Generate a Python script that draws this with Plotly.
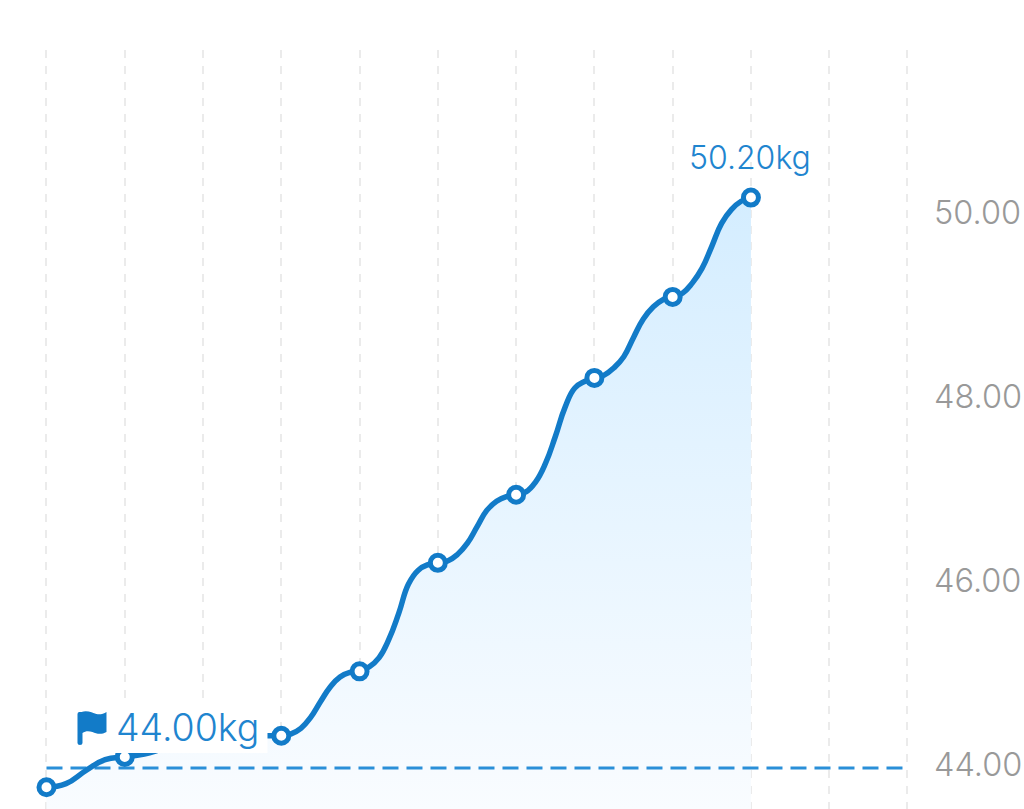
import plotly.graph_objects as go

# point values (kg), one per marker
point_x = [0, 1, 2, 3, 4, 5, 6, 7, 8, 9]
point_kg = [43.79, 44.12, 44.30, 44.35, 45.05, 46.23, 46.97, 48.24, 49.12, 50.20]

# curve, between the points
curve_x = [0, .25, .5, .75, 1, 1.25, 1.5, 1.75, 2, 2.25, 2.5, 2.75, 3,
           3.125, 3.25, 3.375, 3.5, 3.625, 3.75, 3.875, 4,
           4.125, 4.25, 4.375, 4.5, 4.625, 4.75, 4.875, 5,
           5.125, 5.25, 5.375, 5.5, 5.625, 5.75, 5.875, 6,
           6.125, 6.25, 6.375, 6.5, 6.625, 6.75, 6.875, 7,
           7.125, 7.25, 7.375, 7.5, 7.625, 7.75, 7.875, 8,
           8.125, 8.25, 8.375, 8.5, 8.625, 8.75, 8.875, 9]
curve_kg = [43.79, 43.83, 43.97, 44.09, 44.12, 44.15, 44.21, 44.26, 44.30, 44.32, 44.33, 44.35, 44.35,
            44.37, 44.43, 44.55, 44.72, 44.88, 44.99, 45.04, 45.05,
            45.10, 45.20, 45.40, 45.68, 46.00, 46.15, 46.21, 46.23,
            46.25, 46.32, 46.44, 46.62, 46.80, 46.90, 46.95, 46.97,
            47.00, 47.11, 47.31, 47.60, 47.92, 48.13, 48.20, 48.24,
            48.27, 48.35, 48.47, 48.68, 48.88, 49.01, 49.09, 49.12,
            49.16, 49.27, 49.43, 49.67, 49.92, 50.07, 50.16, 50.20]

target_x = [0, 11]
target_kg = [44, 44]
tick_vals = [44, 46, 48, 50]
tick_text = ["44.00", "46.00", "48.00", "50.00"]
target_label = "44.00kg"
last_label = "50.20kg"

BLUE = "#127bc8"
TEXT_BLUE = "#1f85cf"
FONT = "Inter"

fig = go.Figure()
fig.add_trace(go.Scatter(
    x=curve_x, y=curve_kg, mode="none", fill="tozeroy", hoverinfo="skip",
    fillgradient=dict(type="vertical", start=50.2, stop=43.55,
                      colorscale=[[0, "#d4edff"], [1, "#f9fcff"]]),
))
fig.add_trace(go.Scatter(
    x=target_x, y=target_kg, mode="lines",
    line=dict(color="#2a8fd8", width=3, dash="16px,8px"),
))
fig.add_trace(go.Scatter(
    x=curve_x, y=curve_kg, mode="lines",
    line=dict(color=BLUE, width=5.5, shape="spline", smoothing=1.3),
))
fig.add_trace(go.Scatter(
    x=point_x, y=point_kg, mode="markers",
    marker=dict(size=15, color="white", line=dict(color=BLUE, width=5)),
))

box = dict(type="rect", xref="x", yref="y", xsizemode="pixel", ysizemode="pixel",
           xanchor=0, yanchor=44, x0=29, x1=221, y0=15, y1=63,
           fillcolor="white", line=dict(width=0), layer="above")
flag = dict(type="path", xref="x", yref="y", xsizemode="pixel", ysizemode="pixel",
            xanchor=0, yanchor=44,
            path="M31 54 Q31 56 33 56 L35 56 C41 58 46 55 50 54 C53 53 57 54 60 56 L60 36 "
                 "C55 33 50 34 46 36 C42 37 39 37 36 35 L36 25 Q36 23 33.5 23 Q31 23 31 25 Z",
            fillcolor=BLUE, line=dict(width=0), layer="above")
fig.update_layout(shapes=[box, flag])

fig.add_annotation(x=0, y=44, xshift=114 - 46, yshift=768 - 728, text=target_label,
                   xanchor="left", yanchor="middle", showarrow=False,
                   font=dict(family=FONT, size=37.5, color=TEXT_BLUE, weight=300))
fig.add_annotation(x=9, y=50.2, xshift=-1, yshift=40, text=last_label,
                   xanchor="center", yanchor="middle", showarrow=False,
                   font=dict(family=FONT, size=32, color=TEXT_BLUE, weight=300))

fig.update_layout(
    width=1024, height=809, showlegend=False,
    margin=dict(l=0, r=99, t=50, b=0, pad=0),
    paper_bgcolor="white", plot_bgcolor="white",
    xaxis=dict(range=[-0.594, 11.224], tick0=0, dtick=1, showticklabels=False,
               showgrid=True, gridcolor="#ebebeb", gridwidth=2, griddash="8px,8px",
               zeroline=False, showline=False, ticks=""),
    yaxis=dict(range=[43.554, 51.804], side="right", tickvals=tick_vals, ticktext=tick_text,
               showgrid=False, zeroline=False, showline=False, ticks="",
               ticklabelstandoff=8, ticklabelshift=-3,
               tickfont=dict(family=FONT, size=32.5, color="#999999", weight=300)),
)

fig.write_html("out.html", config=dict(displayModeBar=False),
               post_script="document.body.style.margin='0';document.body.style.overflow='hidden';")
